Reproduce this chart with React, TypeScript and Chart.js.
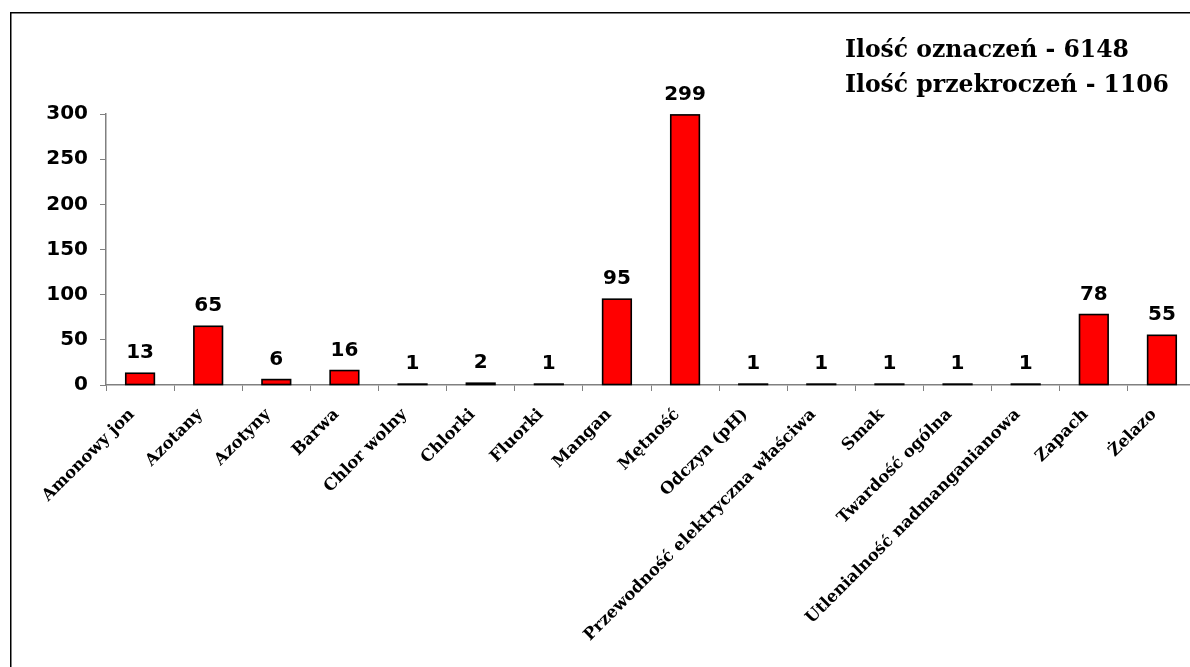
import React, { useEffect, useRef } from "react";
import { Chart, registerables } from "chart.js";

Chart.register(...registerables);

const categories: string[] = [
  "Amonowy jon",
  "Azotany",
  "Azotyny",
  "Barwa",
  "Chlor wolny",
  "Chlorki",
  "Fluorki",
  "Mangan",
  "Mętność",
  "Odczyn (pH)",
  "Przewodność elektryczna właściwa",
  "Smak",
  "Twardość ogólna",
  "Utlenialność nadmanganianowa",
  "Zapach",
  "Żelazo",
];

const values: number[] = [13, 65, 6, 16, 1, 2, 1, 95, 299, 1, 1, 1, 1, 1, 78, 55];

const yMin = 0;
const yMax = 300;
const yStep = 50;

const annotationLines: string[] = ["Ilość oznaczeń - 6148", "Ilość przekroczeń - 1106"];

const framePlugin = {
  id: "frame",
  beforeDraw(chart: any) {
    const ctx = chart.ctx;
    ctx.save();
    ctx.strokeStyle = "#000";
    ctx.lineWidth = 1.5;
    ctx.beginPath();
    ctx.moveTo(10.75, chart.height + 5);
    ctx.lineTo(10.75, 12.75);
    ctx.lineTo(chart.width + 5, 12.75);
    ctx.stroke();
    ctx.restore();
  },
};

const barOutlinePlugin = {
  id: "barOutline",
  afterDatasetsDraw(chart: any) {
    const ctx = chart.ctx;
    const meta = chart.getDatasetMeta(0);
    ctx.save();
    ctx.strokeStyle = "#000";
    ctx.lineWidth = 1.6;
    meta.data.forEach((el: any) => {
      const p = el.getProps(["x", "y", "base", "width"], true);
      const left = p.x - p.width / 2;
      const top = Math.min(p.y, p.base);
      const h = Math.abs(p.base - p.y);
      ctx.strokeRect(left, top, p.width, h);
    });
    ctx.restore();
  },
};

const valueLabelPlugin = {
  id: "valueLabels",
  afterDatasetsDraw(chart: any) {
    const ctx = chart.ctx;
    const meta = chart.getDatasetMeta(0);
    const data = chart.data.datasets[0].data as number[];
    ctx.save();
    ctx.font = "bold 20px 'DejaVu Sans'";
    ctx.fillStyle = "#000";
    ctx.textAlign = "center";
    ctx.textBaseline = "alphabetic";
    meta.data.forEach((el: any, i: number) => {
      ctx.fillText(String(data[i]), el.x, el.y - 15);
    });
    ctx.restore();
  },
};

const annotationPlugin = {
  id: "annotationText",
  afterDraw(chart: any) {
    const ctx = chart.ctx;
    ctx.save();
    ctx.font = "bold 23.5px 'DejaVu Serif'";
    ctx.fillStyle = "#000";
    ctx.textAlign = "left";
    ctx.textBaseline = "alphabetic";
    annotationLines.forEach((line, i) => {
      ctx.fillText(line, 845, 57 + i * 35);
    });
    ctx.restore();
  },
};

export default function App() {
  const canvasRef = useRef<HTMLCanvasElement | null>(null);

  useEffect(() => {
    if (!canvasRef.current) return;
    const chart = new Chart(canvasRef.current, {
      type: "bar",
      data: {
        labels: categories,
        datasets: [
          {
            data: values,
            backgroundColor: "#FF0000",
            borderWidth: 0,
            categoryPercentage: 1,
            barPercentage: 0.42,
          },
        ],
      },
      options: {
        animation: false,
        responsive: false,
        devicePixelRatio: 1,
        layout: { padding: { top: 114, left: 0, right: 4, bottom: 0 } },
        plugins: {
          legend: { display: false },
          tooltip: { enabled: false },
          title: { display: false },
        },
        scales: {
          x: {
            grid: {
              display: true,
              drawOnChartArea: false,
              drawTicks: true,
              tickLength: 6,
              color: "#808080",
              offset: true,
            },
            border: { display: true, color: "#808080", width: 1.5 },
            ticks: {
              autoSkip: false,
              minRotation: 45,
              maxRotation: 45,
              padding: 14,
              labelOffset: -8,
              color: "#000",
              font: { family: "'DejaVu Serif'", weight: "bold", size: 16.5 },
            },
            afterFit(scale: any) {
              scale.height = 282;
            },
          },
          y: {
            min: yMin,
            max: yMax,
            grid: {
              display: true,
              drawOnChartArea: false,
              drawTicks: true,
              tickLength: 6,
              color: "#808080",
            },
            border: { display: true, color: "#808080", width: 1.5 },
            ticks: {
              stepSize: yStep,
              padding: 12,
              color: "#000",
              font: { family: "'DejaVu Sans'", weight: "bold", size: 20 },
            },
            afterFit(scale: any) {
              scale.width = 106;
            },
          },
        },
      },
      plugins: [framePlugin, barOutlinePlugin, valueLabelPlugin, annotationPlugin],
    });
    return () => chart.destroy();
  }, []);

  return (
    <div
      style={{
        position: "fixed",
        left: 0,
        top: 0,
        width: 1190,
        height: 667,
        overflow: "hidden",
        background: "#fff",
      }}
    >
      <canvas
        ref={canvasRef}
        width={1200}
        height={667}
        style={{ position: "absolute", left: 0, top: 0, width: 1200, height: 667 }}
      />
    </div>
  );
}
